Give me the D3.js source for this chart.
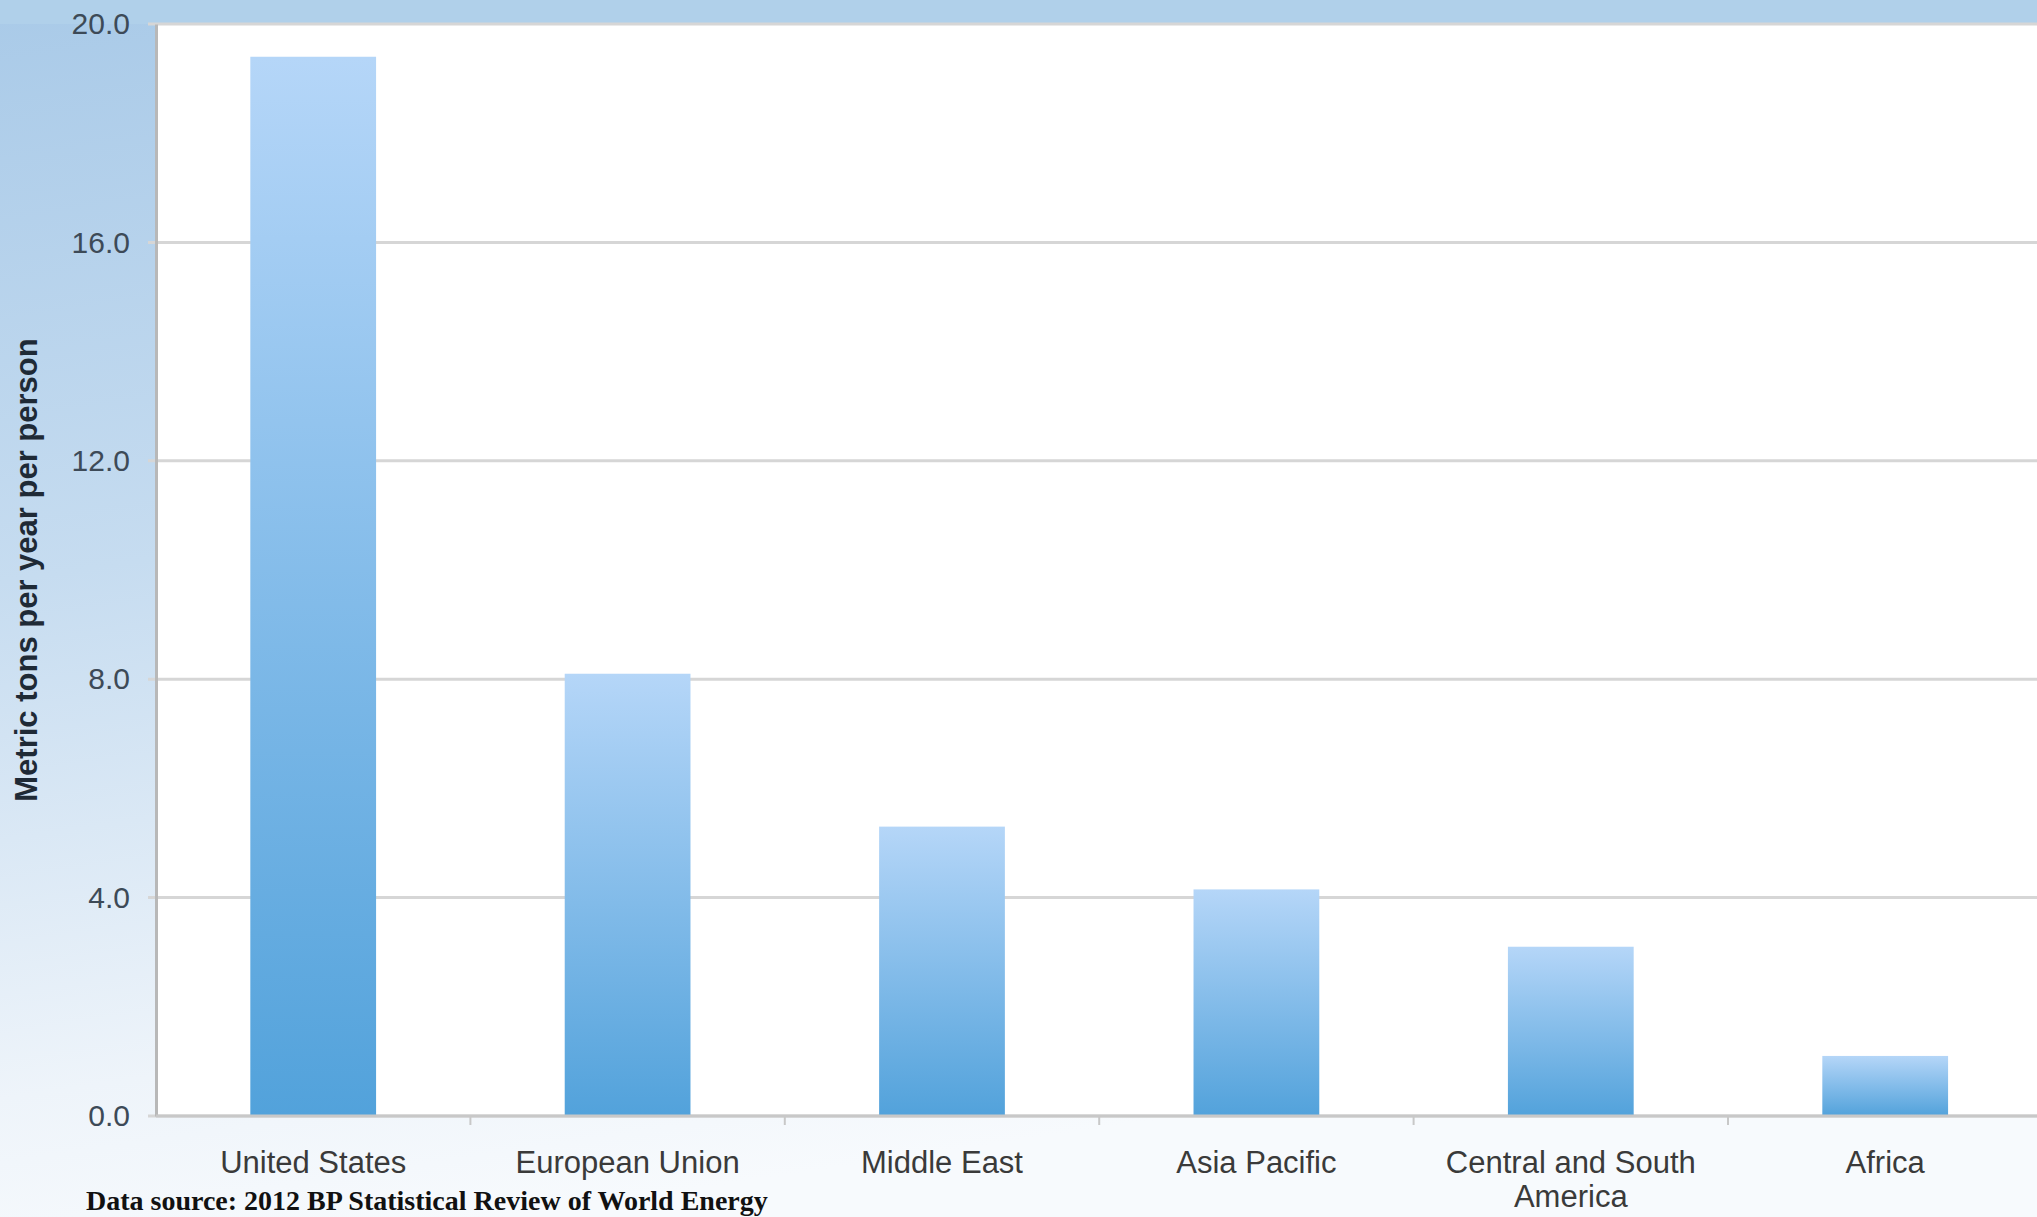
<!DOCTYPE html>
<html>
<head>
<meta charset="utf-8">
<script src="https://cdn.jsdelivr.net/npm/d3@7"></script>
<style>
  body { margin: 0; padding: 0; background: #ffffff; }
  svg { display: block; }
</style>
</head>
<body>
<svg width="2037" height="1217"></svg>
<script>
// CO2 emissions per person, by region
var regions = ["United States", "European Union", "Middle East", "Asia Pacific", "Central and South America", "Africa"];
var tonsPerPerson = [19.4, 8.1, 5.3, 4.15, 3.1, 1.1];
var yTicks = [0, 4, 8, 12, 16, 20];

var data = regions.map(function (r, i) { return { region: r, value: tonsPerPerson[i] }; });

var svg = d3.select("svg"),
    width = 2037,
    height = 1217;

var plotLeft = 156, plotTop = 24, plotBottom = 1116;

var defs = svg.append("defs");

var bg = defs.append("linearGradient")
    .attr("id", "bg")
    .attr("x1", 0).attr("y1", 0).attr("x2", 0.25).attr("y2", 1);
bg.append("stop").attr("offset", "0%").attr("stop-color", "#a9cae8");
bg.append("stop").attr("offset", "45%").attr("stop-color", "#c6dcf0");
bg.append("stop").attr("offset", "85%").attr("stop-color", "#eef4fa");
bg.append("stop").attr("offset", "100%").attr("stop-color", "#f7fafd");

var barGrad = defs.append("linearGradient")
    .attr("id", "barGrad")
    .attr("x1", 0).attr("y1", 0).attr("x2", 0).attr("y2", 1);
barGrad.append("stop").attr("offset", "0%").attr("stop-color", "#b5d6f8");
barGrad.append("stop").attr("offset", "100%").attr("stop-color", "#52a2db");

svg.append("rect")
    .attr("width", width)
    .attr("height", height)
    .attr("fill", "url(#bg)");

// top band
svg.append("rect")
    .attr("x", 0).attr("y", 0)
    .attr("width", width).attr("height", plotTop)
    .attr("fill", "#b0d0ea");

// plot area
svg.append("rect")
    .attr("x", plotLeft).attr("y", plotTop)
    .attr("width", width - plotLeft).attr("height", plotBottom - plotTop)
    .attr("fill", "#ffffff");

var x = d3.scaleBand().range([plotLeft, plotLeft + 6 * 314.4]).paddingInner(0.6).paddingOuter(0.3),
    y = d3.scaleLinear().range([plotBottom, plotTop]);

x.domain(regions);
y.domain([0, 20]);

// gridlines
svg.append("g")
    .selectAll("line")
    .data(yTicks)
    .enter().append("line")
    .attr("x1", plotLeft - 8)
    .attr("x2", width)
    .attr("y1", function (d) { return y(d); })
    .attr("y2", function (d) { return y(d); })
    .attr("stroke", "#d6d6d6")
    .attr("stroke-width", 3);

// y axis
var yAxis = svg.append("g")
    .attr("transform", "translate(" + plotLeft + ",0)")
    .call(d3.axisLeft(y).tickValues(yTicks).tickSize(0).tickPadding(26).tickFormat(d3.format(".1f")));
yAxis.select(".domain").attr("stroke", "#b8b8b8").attr("stroke-width", 3);
yAxis.selectAll("text")
    .attr("font-family", "Liberation Sans, Arial, sans-serif")
    .attr("font-size", "30px")
    .attr("fill", "#3d4a57");

// bars
svg.selectAll(".bar")
    .data(data)
    .enter().append("rect")
    .attr("class", "bar")
    .attr("x", function (d) { return x(d.region); })
    .attr("y", function (d) { return y(d.value); })
    .attr("width", x.bandwidth())
    .attr("height", function (d) { return y(0) - y(d.value); })
    .attr("fill", "url(#barGrad)");

// x axis line + category separators
svg.append("line")
    .attr("x1", plotLeft).attr("x2", width)
    .attr("y1", y(0)).attr("y2", y(0))
    .attr("stroke", "#c8c8c8")
    .attr("stroke-width", 3);

svg.append("g")
    .selectAll("line")
    .data(regions.slice(1))
    .enter().append("line")
    .attr("x1", function (d) { return x(d) - x.step() * 0.3; })
    .attr("x2", function (d) { return x(d) - x.step() * 0.3; })
    .attr("y1", y(0))
    .attr("y2", y(0) + 9)
    .attr("stroke", "#c8c8c8")
    .attr("stroke-width", 2);

// category labels (wrap long one)
var labels = svg.append("g")
    .selectAll("text")
    .data(regions)
    .enter().append("text")
    .attr("x", function (d) { return x(d) + x.bandwidth() / 2; })
    .attr("y", 1173)
    .attr("text-anchor", "middle")
    .attr("font-family", "Liberation Sans, Arial, sans-serif")
    .attr("font-size", "31px")
    .attr("fill", "#3a3a3a");

labels.each(function (d) {
    var t = d3.select(this);
    var lines = d === "Central and South America" ? ["Central and South", "America"] : [d];
    lines.forEach(function (l, i) {
        t.append("tspan")
            .attr("x", x(d) + x.bandwidth() / 2)
            .attr("dy", i === 0 ? 0 : 34)
            .text(l);
    });
});

// y axis title
svg.append("text")
    .attr("transform", "translate(37," + 570 + ") rotate(-90)")
    .attr("text-anchor", "middle")
    .attr("font-family", "Liberation Sans, Arial, sans-serif")
    .attr("font-weight", "bold")
    .attr("font-size", "31px")
    .attr("fill", "#1f2a36")
    .text("Metric tons per year per person");

// source note
svg.append("text")
    .attr("x", 86)
    .attr("y", 1210)
    .attr("font-family", "Liberation Serif, Times New Roman, serif")
    .attr("font-weight", "bold")
    .attr("font-size", "28px")
    .attr("fill", "#111111")
    .text("Data source: 2012 BP Statistical Review of World Energy");
</script>
</body>
</html>
